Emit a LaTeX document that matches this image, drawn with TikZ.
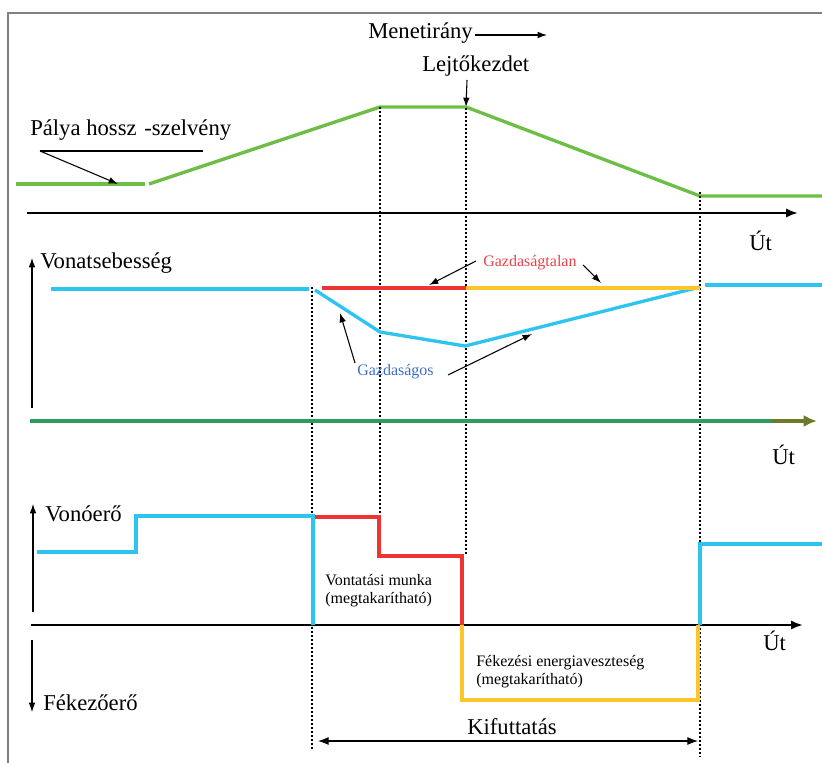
\documentclass[tikz,border=0pt]{standalone}
\usepackage{fontspec}
\setmainfont{Liberation Serif}
\usetikzlibrary{arrows.meta}
\definecolor{pgreen}{HTML}{6CBE45}
\definecolor{pblue}{HTML}{2EC4F0}
\definecolor{pred}{HTML}{EE3333}
\definecolor{porange}{HTML}{FFC62A}
\definecolor{dgreen}{HTML}{2E9960}
\definecolor{polive}{HTML}{6B7B2A}
\definecolor{tred}{HTML}{E8424A}
\definecolor{tblue}{HTML}{3A6FC4}
\begin{document}
\begin{tikzpicture}[x=0.75pt,y=-0.75pt,
  curve/.style={line width=2.5pt},
  axisline/.style={line width=1.7pt,-{Latex[length=9pt,width=7pt]}},
  thinarrow/.style={line width=0.8pt,-{Latex[length=7pt,width=5pt]}},
  guide/.style={line width=2pt,dash pattern=on 1.5pt off 1.5pt},
  big/.style={font=\fontsize{17}{19}\selectfont,inner sep=0pt,anchor=west},
  small/.style={font=\fontsize{12}{13.5}\selectfont,inner sep=0pt,anchor=north west,align=left}]
\useasboundingbox (0,0) rectangle (822,763);
% frame
\draw[gray,line width=1.4pt] (8,763) -- (8,13) -- (822,13);

% ---------- top: track profile ----------
\node[big] (menet) at (368,33) {Menetirány};
\coordinate (menetA) at (475,35);
\coordinate (menetB) at (547,35);
\draw[thinarrow] (menetA) -- (menetB);

\node[big] (lejto) at (422,66) {Lejtőkezdet};
\coordinate (lejtoA) at (467,80);
\coordinate (p3) at (466,107);
\draw[thinarrow] (lejtoA) -- (p3);

\coordinate (p0) at (16,184);
\coordinate (p0b) at (145,184);
\coordinate (p1) at (149,184);
\coordinate (p2) at (380,107);
\coordinate (p4) at (700,196);
\coordinate (p5) at (822,196);
\draw[curve,pgreen] (p0) -- (p0b);
\draw[curve,pgreen] (p1) -- (p2) -- (p3) -- (p4) -- (p5);

\node[big] (palya) at (30,130) {Pálya hossz\hspace{1.5pt} -szelvény};
\coordinate (palyaL) at (40,151);
\coordinate (palyaR) at (203,151);
\coordinate (palyaT) at (118,184);
\draw[line width=0.8pt] (palyaR) -- (palyaL);
\draw[thinarrow] (palyaL) -- (palyaT);

\coordinate (ax1a) at (27,213);
\coordinate (ax1b) at (798,213);
\draw[axisline] (ax1a) -- (ax1b);
\node[big] (ut1) at (749,241) {Út};

% ---------- guides ----------
\coordinate (g1a) at (380,107); \coordinate (g1b) at (380,517);
\coordinate (g2a) at (466,108); \coordinate (g2b) at (466,556);
\coordinate (g3a) at (312,287); \coordinate (g3b) at (312,750);
\coordinate (g4a) at (700,192); \coordinate (g4b) at (700,757);
\draw[guide] (g1a) -- (g1b);
\draw[guide] (g2a) -- (g2b);
\draw[guide] (g3a) -- (g3b);
\draw[guide] (g4a) -- (g4b);

% ---------- middle: speed ----------
\coordinate (vA) at (32,408);
\coordinate (vB) at (32,258);
\draw[thinarrow] (vA) -- (vB);
\node[big] (vonat) at (40,263) {Vonatsebesség};

\coordinate (s0) at (51,289);
\coordinate (s1) at (309,289);
\coordinate (s2) at (315,290);
\coordinate (s3) at (380,332);
\coordinate (s4) at (465,346);
\coordinate (s5) at (700,287);
\coordinate (s6) at (705,285);
\coordinate (s7) at (822,285);
\draw[curve,pblue] (s0) -- (s1);
\draw[curve,pblue] (s2) -- (s3) -- (s4) -- (s5);
\draw[curve,pblue] (s6) -- (s7);
\coordinate (r0) at (322,288);
\coordinate (r1) at (466,288);
\coordinate (r2) at (700,288);
\draw[curve,pred] (r0) -- (r1);
\draw[curve,porange] (r1) -- (r2);

\node[font=\fontsize{12}{13.5}\selectfont,inner sep=0pt,anchor=west,text=tred] (gtalan) at (483,263) {Gazdaságtalan};
\coordinate (gt1a) at (476,261);
\coordinate (gt1b) at (429,285);
\coordinate (gt2a) at (583,265);
\coordinate (gt2b) at (601,283);
\draw[thinarrow] (gt1a) -- (gt1b);
\draw[thinarrow] (gt2a) -- (gt2b);

\node[font=\fontsize{12}{13.5}\selectfont,inner sep=0pt,anchor=west,text=tblue] (gos) at (357,372) {Gazdaságos};
\coordinate (go1a) at (355,363);
\coordinate (go1b) at (340,313);
\coordinate (go2a) at (448,375);
\coordinate (go2b) at (532,334);
\draw[thinarrow] (go1a) -- (go1b);
\draw[thinarrow] (go2a) -- (go2b);

\coordinate (ax2a) at (30,421);
\coordinate (ax2m) at (772,421);
\coordinate (ax2b) at (817,421);
\draw[dgreen,line width=2.5pt] (ax2a) -- (ax2m);
\draw[polive,line width=2.5pt,-{Latex[length=10pt,width=9pt]}] (ax2m) -- (ax2b);
\node[big] (ut2) at (772,455) {Út};

% ---------- bottom: force ----------
\coordinate (fA) at (33,612);
\coordinate (fB) at (33,504);
\draw[thinarrow] (fA) -- (fB);
\node[big] (vonoero) at (45,514) {Vonóerő};
\coordinate (bA) at (32,640);
\coordinate (bB) at (32,712);
\draw[thinarrow] (bA) -- (bB);
\node[big] (fekero) at (43,703) {Fékezőerő};

\coordinate (ax3a) at (31,625);
\coordinate (ax3b) at (803,625);
\draw[axisline] (ax3a) -- (ax3b);
\node[big] (ut3) at (763,641) {Út};

\coordinate (f0) at (37,552);
\coordinate (f1) at (136,552);
\coordinate (f2) at (136,516);
\coordinate (f3) at (313,516);
\coordinate (f4) at (313,625);
\draw[curve,pblue] (f0) -- (f1) -- (f2) -- (f3) -- (f4);
\coordinate (q0) at (315,517);
\coordinate (q1) at (379,517);
\coordinate (q2) at (379,556);
\coordinate (q3) at (462,556);
\coordinate (q4) at (462,625);
\draw[curve,pred] (q0) -- (q1) -- (q2) -- (q3) -- (q4);
\coordinate (o1) at (462,700);
\coordinate (o2) at (698,700);
\coordinate (o3) at (698,625);
\draw[curve,porange] (q4) -- (o1) -- (o2) -- (o3);
\coordinate (h0) at (700,625);
\coordinate (h1) at (700,544);
\coordinate (h2) at (822,544);
\draw[curve,pblue] (h0) -- (h1) -- (h2);

\node[small] (vontat) at (325,574) {Vontatási munka\\(megtakarítható)};
\node[small] (fekez) at (476,655) {Fékezési energiaveszteség\\(megtakarítható)};

\node[big] (kifut) at (467,727) {Kifuttatás};
\coordinate (kA) at (318,741);
\coordinate (kB) at (698,741);
\draw[line width=0.8pt,{Latex[length=8pt,width=6pt]}-{Latex[length=8pt,width=6pt]}] (kA) -- (kB);
\end{tikzpicture}
\end{document}
